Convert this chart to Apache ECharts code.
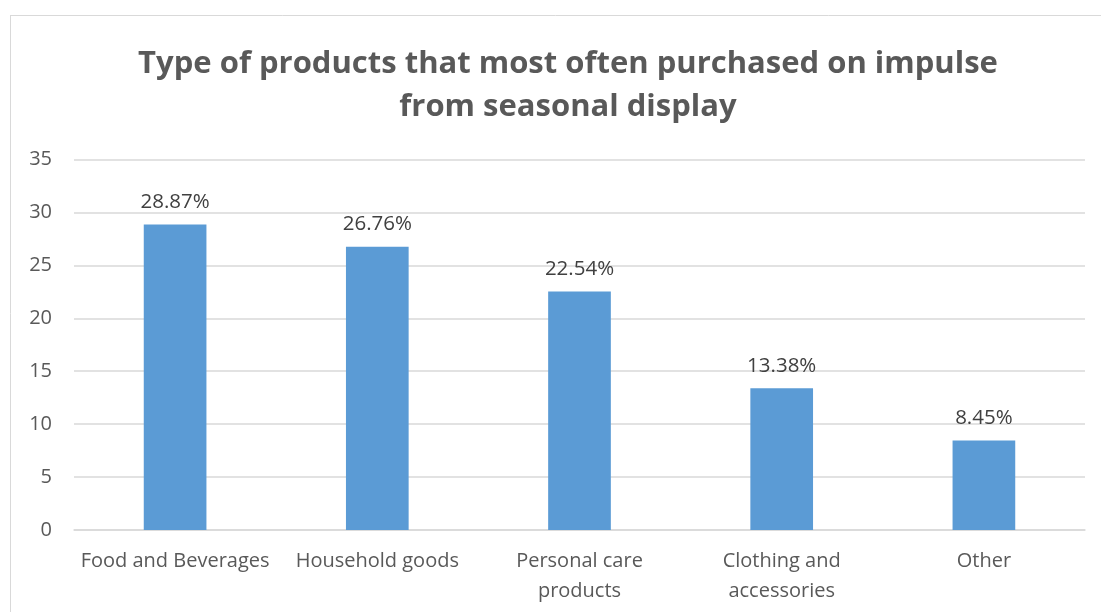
<!DOCTYPE html>
<html>
<head>
<meta charset="utf-8">
<script src="https://cdn.jsdelivr.net/npm/echarts@6/dist/echarts.min.js"></script>
<style>
  html, body { margin: 0; padding: 0; background: #ffffff; }
  #chart { width: 1101px; height: 612px; }
</style>
</head>
<body>
<div id="chart"></div>
<script>
// Product categories and the share of impulse purchases for each
const categories = ['Food and Beverages', 'Household goods', 'Personal care\nproducts', 'Clothing and\naccessories', 'Other'];
const shares = [28.87, 26.76, 22.54, 13.38, 8.45];
const yTicks = [0, 5, 10, 15, 20, 25, 30, 35];

const chart = echarts.init(document.getElementById('chart'));

chart.setOption({
  animation: false,
  backgroundColor: '#ffffff',
  title: {
    text: 'Type of products that most often purchased on impulse\nfrom seasonal display',
    left: 563,
    top: 38,
    textAlign: 'center',
    textStyle: {
      fontFamily: 'Open Sans',
      fontSize: 31,
      fontWeight: 'bold',
      color: '#595959',
      lineHeight: 43
    }
  },
  graphic: [
    { type: 'line', shape: { x1: 10, y1: 15.5, x2: 1101, y2: 15.5 }, style: { stroke: '#d9d9d9', lineWidth: 1 }, silent: true },
    { type: 'line', shape: { x1: 10.5, y1: 15, x2: 10.5, y2: 612 }, style: { stroke: '#d9d9d9', lineWidth: 1 }, silent: true }
  ],
  grid: { left: 74, right: 16, top: 159.5, bottom: 82, containLabel: false },
  xAxis: {
    type: 'category',
    data: categories,
    axisLine: { show: true, lineStyle: { color: '#d9d9d9', width: 1.5 } },
    axisTick: { show: false },
    axisLabel: {
      fontFamily: 'Open Sans',
      fontSize: 20,
      color: '#595959',
      lineHeight: 30,
      margin: 16,
      interval: 0
    }
  },
  yAxis: {
    type: 'value',
    min: yTicks[0],
    max: yTicks[yTicks.length - 1],
    interval: 5,
    axisLine: { show: false },
    axisTick: { show: false },
    splitLine: { lineStyle: { color: '#d9d9d9', width: 1.5 } },
    axisLabel: {
      fontFamily: 'Open Sans',
      fontSize: 20,
      color: '#595959',
      margin: 22
    }
  },
  series: [{
    type: 'bar',
    data: shares,
    barWidth: '31%',
    itemStyle: { color: '#5b9bd5' },
    label: {
      show: true,
      position: 'top',
      distance: 12,
      formatter: p => p.value.toFixed(2) + '%',
      fontFamily: 'Open Sans',
      fontSize: 20.5,
      color: '#404040'
    }
  }]
});
</script>
</body>
</html>
